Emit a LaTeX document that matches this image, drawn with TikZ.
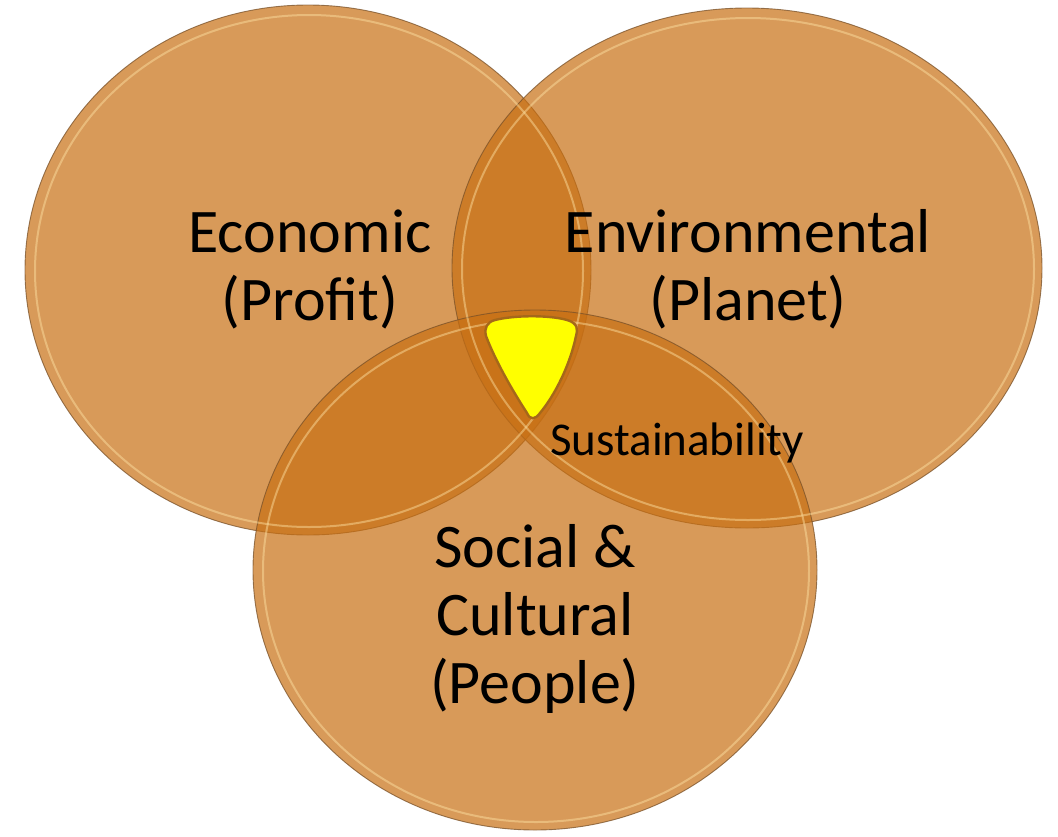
\documentclass[tikz,border=0pt]{standalone}
\usepackage{fontspec}
\setmainfont{Carlito}
\usetikzlibrary{shapes.geometric}
\definecolor{orbase}{RGB}{199,111,19}
\definecolor{rimc}{RGB}{120,80,40}
\definecolor{hilite}{RGB}{255,228,165}
\definecolor{sustborder}{RGB}{165,104,26}
\definecolor{sustfill}{RGB}{255,255,0}
\begin{document}
\begin{tikzpicture}[x=1pt,y=-1pt,
  circ/.style={ellipse, inner sep=0pt, fill=orbase, fill opacity=0.7,
    draw=rimc, draw opacity=0.75, line width=0.9pt},
  rim/.style={ellipse, inner sep=0pt, draw=hilite, draw opacity=0.45, line width=2pt},
  lbl/.style={font=\fontsize{62}{68}\selectfont, inner sep=0pt, anchor=base, text=black},
  small/.style={font=\fontsize{47}{52}\selectfont, inner sep=0pt, anchor=base west, text=black},
  sust/.style={fill=sustfill, draw=sustborder, line width=2.4pt, line join=round}
]
\useasboundingbox (0,0) rectangle (1058,836);
% circles
\node[circ, minimum width=566pt, minimum height=530pt] (econ) at (308,270) {};
\node[circ, minimum width=590pt, minimum height=520pt] (env) at (747,268) {};
\node[circ, minimum width=564pt, minimum height=520pt] (soc) at (535,570) {};
% bevel highlights
\node[rim, minimum width=548pt, minimum height=512pt] (econrim) at (309,271) {};
\node[rim, minimum width=572pt, minimum height=502pt] (envrim) at (748,269) {};
\node[rim, minimum width=546pt, minimum height=502pt] (socrim) at (536,571) {};
% sustainability core
\path[sust] (495,320) .. controls (515,315) and (550,315) .. (567,320)
  .. controls (578,323) and (578,330) .. (576,336)
  .. controls (570,365) and (555,395) .. (540,413)
  .. controls (535,420) and (530,420) .. (527,413)
  .. controls (512,390) and (495,360) .. (486,336)
  .. controls (484,328) and (487,322) .. (495,320) -- cycle;
% labels
\node[lbl] (econT) at (310,252) {\begin{tabular}[t]{@{}c@{}}Economic\\(Profit)\end{tabular}};
\node[lbl] (envT) at (748,252) {\begin{tabular}[t]{@{}c@{}}Environmental\\(Planet)\end{tabular}};
\node[lbl] (socT) at (535,567) {\begin{tabular}[t]{@{}c@{}}Social \&\\Cultural\\(People)\end{tabular}};
\node[small] (sustT) at (550,455) {Sustainability};
\end{tikzpicture}
\end{document}
